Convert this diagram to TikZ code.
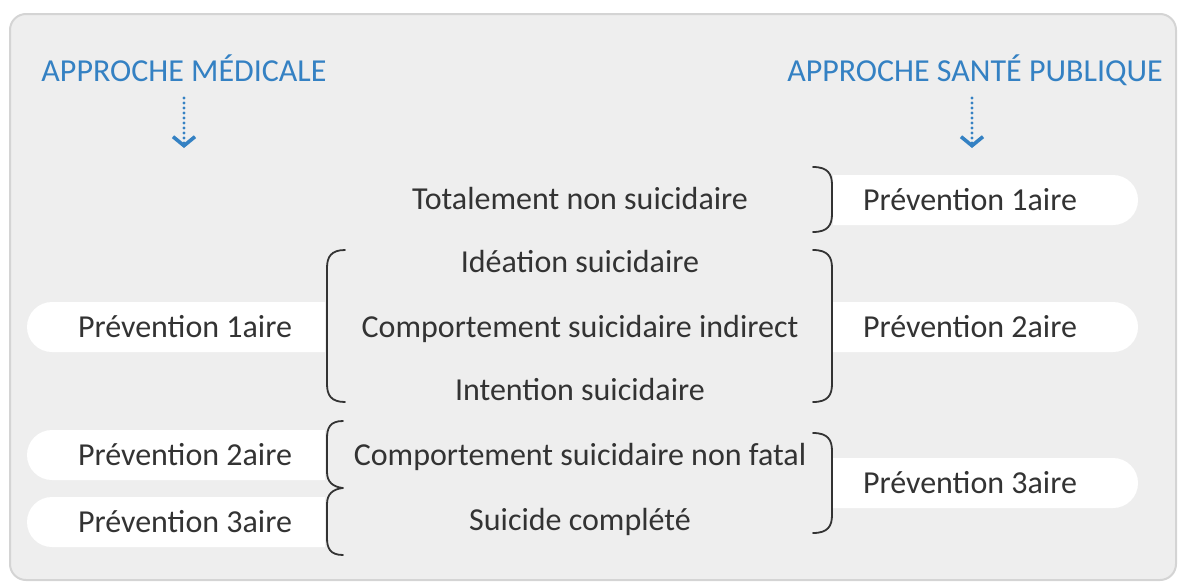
\documentclass[tikz,border=0pt]{standalone}
\usepackage{fontspec}
\setmainfont{Carlito}
\usetikzlibrary{arrows.meta,positioning}
\definecolor{boxgray}{HTML}{EEEEEE}
\definecolor{edgegray}{HTML}{D4D4D4}
\definecolor{headblue}{HTML}{3481C3}
\definecolor{txtgray}{HTML}{333333}
\begin{document}
\begin{tikzpicture}[x=1pt,y=-1pt,line cap=round,line join=round,
  lbl/.style={font=\fontsize{32}{38}\selectfont,text=txtgray,inner sep=0pt,anchor=base},
  head/.style={font=\fontsize{32}{38}\selectfont,text=headblue,inner sep=0pt,anchor=base},
  brk/.style={line width=1.8pt,color=txtgray},
  darr/.style={headblue,line width=3.2pt,dash pattern=on 0pt off 5pt,-{Straight Barb[length=9pt,width=22pt,line width=3.6pt]}}]
\useasboundingbox (0,0) rectangle (1178,584);
\draw[fill=boxgray,draw=edgegray,line width=2pt,rounded corners=16pt] (10,14) rectangle (1176,580);
\foreach \yc in {327,455,522}
  \fill[white] (325,{\yc-25}) -- (52,{\yc-25}) arc[start angle=270,end angle=90,radius=25] -- (325,{\yc+25}) -- cycle;
\foreach \yc in {200,327,483}
  \fill[white] (833,{\yc-25}) -- (1113,{\yc-25}) arc[start angle=270,end angle=450,radius=25] -- (833,{\yc+25}) -- cycle;
\node[head] (medic) at (184,81) {APPROCHE MÉDICALE};
\node[head] (sante) at (975,81) {APPROCHE SANTÉ PUBLIQUE};
\coordinate (medictop) at (184,98);
\coordinate (medicend) at (184,148);
\coordinate (santetop) at (972,98);
\coordinate (santeend) at (972,148);
\draw[darr] (medictop) -- (medicend);
\draw[darr] (santetop) -- (santeend);
\node[lbl] (tot) at (580,209) {Totalement non suicidaire};
\node[lbl] (idea) at (580,272) {Idéation suicidaire};
\node[lbl] (indir) at (580,337) {Comportement suicidaire indirect};
\node[lbl] (inten) at (580,400) {Intention suicidaire};
\node[lbl] (nonfat) at (580,465) {Comportement suicidaire non fatal};
\node[lbl] (compl) at (580,530) {Suicide complété};
\node[lbl] (med1) at (185,337) {Prévention 1aire};
\node[lbl] (med2) at (185,465) {Prévention 2aire};
\node[lbl] (med3) at (185,532) {Prévention 3aire};
\node[lbl] (pub1) at (970,210) {Prévention 1aire};
\node[lbl] (pub2) at (970,337) {Prévention 2aire};
\node[lbl] (pub3) at (970,493) {Prévention 3aire};
\foreach \ya/\yb in {167/232,250/402,433/533}
  \draw[brk] (813,\ya) .. controls (828,\ya) and (832,{\ya+7}) .. (832,{\ya+18}) -- (832,{\yb-18}) .. controls (832,{\yb-7}) and (828,\yb) .. (813,\yb);
\draw[brk] (345,250) .. controls (331,250) and (327,257) .. (327,268) -- (327,384) .. controls (327,395) and (331,402) .. (345,402);
\draw[brk] (343,421) .. controls (330,421) and (327,428) .. (327,438) -- (327,472) .. controls (327,482) and (333,487) .. (343,488) .. controls (333,489) and (327,494) .. (327,504) -- (327,538) .. controls (327,548) and (330,555) .. (343,555);
\end{tikzpicture}
\end{document}
